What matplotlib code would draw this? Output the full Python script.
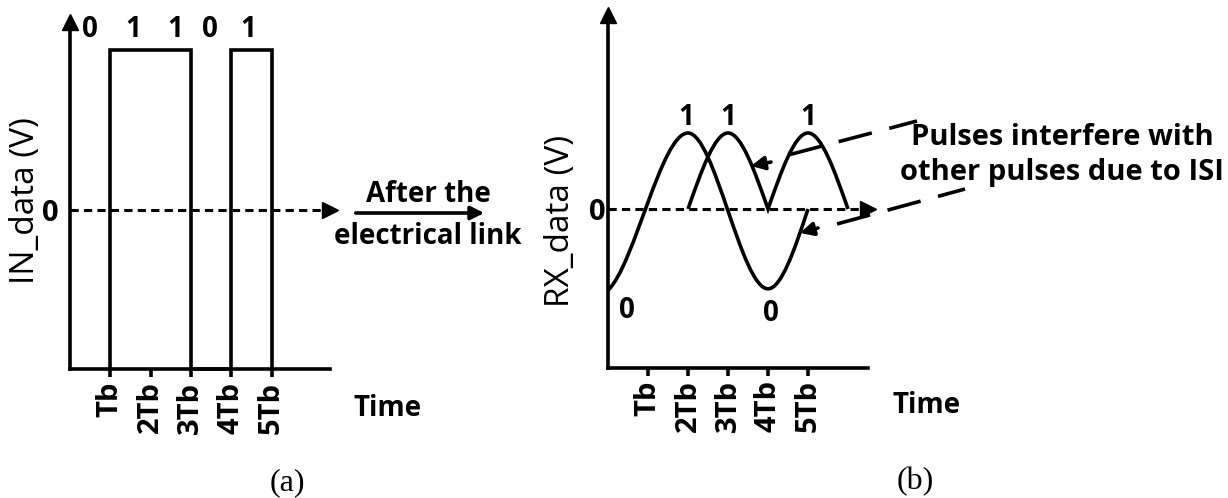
import matplotlib
matplotlib.use("Agg")
import matplotlib.pyplot as plt
from matplotlib.path import Path
from matplotlib.patches import PathPatch, FancyArrowPatch

plt.rcParams["font.family"] = ["Open Sans", "DejaVu Sans"]

# ---- (a) transmitted data, time in units of Tb ----
in_bits = ["0", "1", "1", "0", "1"]
in_bit_t = [0.5, 1.56, 2.61, 3.47, 4.42]
in_t = [1, 1, 3, 3, 4, 4, 5, 5]
in_v = [-1, 1, 1, -1, -1, 1, 1, -1]

tick_t = [1, 2, 3, 4, 5]
tick_labels = ["Tb", "2Tb", "3Tb", "4Tb", "5Tb"]

# ---- (b) received pulses: key points with slopes leaving / arriving ----
rx_low_t = [0, 2, 4, 5]
rx_low_v = [-1.07, 1, -1.05, 0]
rx_low_out = [0.5, 0, 0, None]
rx_low_in = [None, 0, 0, 1.6]

rx_up_t = [2, 3, 4, 5, 6]
rx_up_v = [0, 1, 0, 1, 0]
rx_up_out = [1.5, 0, 1.5, 0, None]
rx_up_in = [None, 0, -1.5, 0, -1.5]

rx_bits = ["1", "1", "1", "0", "0"]
rx_bit_t = [1.95, 3.0, 5.0, 0.48, 4.08]
rx_bit_v = [1.21, 1.21, 1.21, -1.33, -1.37]

# ISI arrows (tip, tail) and dashed callout lines
isi_tip = [(3.575, 0.566), (4.8, -0.316)]
isi_tail = [(4.075, 0.618), (5.25, -0.25)]
callout_start = [(4.5, 0.71), (5.725, -0.197)]
callout_end = [(7.725, 1.158), (8.925, 0.263)]

W, H = 1228, 498
LW = 2.6


def hermite_path(t, v, s_out, s_in):
    verts = [(t[0], v[0])]
    codes = [Path.MOVETO]
    for i in range(len(t) - 1):
        d = (t[i + 1] - t[i]) / 3
        verts += [(t[i] + d, v[i] + d * s_out[i]),
                  (t[i + 1] - d, v[i + 1] - d * s_in[i + 1]),
                  (t[i + 1], v[i + 1])]
        codes += [Path.CURVE4] * 3
    return Path(verts, codes)


def setup_axes(ax, xmax, ylo, yhi, ypad):
    ax.set_xlim(0, xmax)
    ax.set_ylim(ylo, yhi)
    ax.spines[["top", "right"]].set_visible(False)
    for s in ["left", "bottom"]:
        ax.spines[s].set_linewidth(LW)
    ax.plot(1, 0, ">k", ms=11, transform=ax.get_yaxis_transform(), clip_on=False)
    ax.plot(0, 1, "^k", ms=11, transform=ax.get_xaxis_transform(), clip_on=False)
    ax.set_xticks(tick_t, tick_labels, rotation=90, fontsize=21, fontweight="bold")
    ax.set_yticks([0], ["0"], fontsize=21, fontweight="bold")
    ax.tick_params(axis="x", length=6, width=LW, pad=3)
    ax.tick_params(axis="y", length=0, pad=ypad)
    ax.set_facecolor("none")


fig = plt.figure(figsize=(W / 100, H / 100), dpi=100)

# panel (a)
ax_a = fig.add_axes([70 / W, 1 - 369 / H, 260 / W, 347 / H])
setup_axes(ax_a, 260 / 40.3, -1.0, 1.176, 8)
ax_a.plot([0, 6.38], [0, 0], color="k", lw=2.2, ls=(0, (2.7, 1.7)))
ax_a.plot(in_t, in_v, color="k", lw=LW, clip_on=False, solid_joinstyle="miter")
for b, t in zip(in_bits, in_bit_t):
    ax_a.text(t, 1.13, b, ha="center", va="center", fontsize=20, fontweight="bold")
ax_a.set_ylabel("IN_data (V)", fontsize=24, va="center")
ax_a.yaxis.set_label_coords(-0.173, (369 - 201) / 347)
ax_a.set_xlabel("Time", fontsize=20, fontweight="bold", va="center")
ax_a.xaxis.set_label_coords((388 - 70) / 260, (369 - 409) / 347)

# panel (b)
ax_b = fig.add_axes([608 / W, 1 - 368 / H, 260 / W, 353 / H])
setup_axes(ax_b, 6.5, -159 / 76, 194 / 76, 2)
ax_b.plot([0, 6.425], [0, 0], color="k", lw=2.2, ls=(0, (2.7, 1.7)))
for path in [hermite_path(rx_low_t, rx_low_v, rx_low_out, rx_low_in),
             hermite_path(rx_up_t, rx_up_v, rx_up_out, rx_up_in)]:
    ax_b.add_patch(PathPatch(path, fill=False, lw=LW, color="k", clip_on=False))
for b, t, v in zip(rx_bits, rx_bit_t, rx_bit_v):
    ax_b.text(t, v, b, ha="center", va="center", fontsize=20, fontweight="bold")
for tip, tail in zip(isi_tip, isi_tail):
    ax_b.annotate("", xy=tip, xytext=tail,
                  arrowprops=dict(arrowstyle="-|>", lw=LW, color="k",
                                  mutation_scale=20, shrinkA=0, shrinkB=0))
for p0, p1 in zip(callout_start, callout_end):
    ax_b.plot([p0[0], p1[0]], [p0[1], p1[1]], color="k", lw=LW,
              ls=(0, (9.5, 5)), clip_on=False)
ax_b.set_ylabel("RX_data (V)", fontsize=24, va="center")
ax_b.yaxis.set_label_coords((561 - 608) / 260, (368 - 221) / 353)
ax_b.set_xlabel("Time", fontsize=20, fontweight="bold", va="center")
ax_b.xaxis.set_label_coords((927 - 608) / 260, (368 - 405) / 353)

# middle arrow and captions
fig.text(428 / W, 1 - 195 / H, "After the", ha="center", va="center",
         fontsize=20, fontweight="bold")
fig.text(428 / W, 1 - 237 / H, "electrical link", ha="center", va="center",
         fontsize=20, fontweight="bold")
fig.add_artist(FancyArrowPatch(
    (353 / W, 1 - 213 / H), (487 / W, 1 - 213 / H), transform=fig.transFigure,
    arrowstyle="-|>", lw=LW, color="k", mutation_scale=20))
fig.text(1062 / W, 1 - 155 / H, "Pulses interfere with\nother pulses due to ISI",
         ha="center", va="center", fontsize=21, fontweight="bold", linespacing=1.25)

fig.text(287 / W, 1 - 483 / H, "(a)", ha="center", va="center",
         fontsize=23, family="Liberation Serif")
fig.text(915 / W, 1 - 482 / H, "(b)", ha="center", va="center",
         fontsize=23, family="Liberation Serif")

fig.savefig("out.png", dpi=100)
